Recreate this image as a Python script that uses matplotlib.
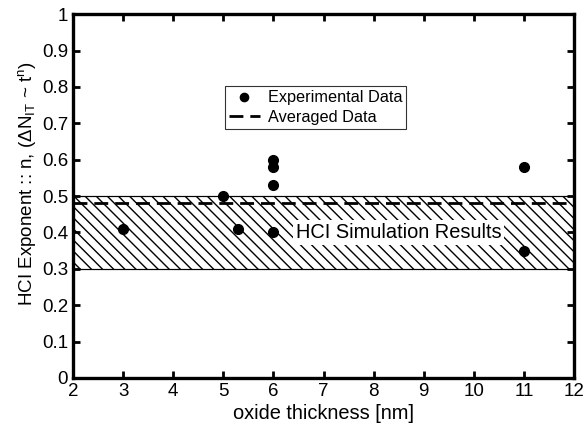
import numpy as np
import matplotlib.pyplot as plt

plt.rcParams['font.family'] = ['Liberation Sans', 'DejaVu Sans']
plt.rcParams['mathtext.fontset'] = 'custom'
plt.rcParams['mathtext.rm'] = 'Liberation Sans'
plt.rcParams['mathtext.it'] = 'Liberation Sans'

thickness = [3, 5, 5.3, 6, 6, 6, 6, 11, 11]
exponent = [0.41, 0.50, 0.41, 0.60, 0.58, 0.53, 0.40, 0.58, 0.35]
avg_exponent = 0.48
sim_low, sim_high = 0.30, 0.50

fig = plt.figure(figsize=(5.84, 4.30), dpi=100)
ax = fig.add_axes([0.125, 0.121, 0.858, 0.846])

ax.axhspan(sim_low, sim_high, facecolor='none', edgecolor='black', hatch='\\\\\\', linewidth=0.8)
ax.axhline(sim_low, color='black', lw=0.8)
ax.axhline(sim_high, color='black', lw=0.8)
ax.plot(thickness, exponent, 'o', color='black', ms=7, label='Experimental Data')
ax.axhline(avg_exponent, color='black', ls='--', lw=2, dashes=(5, 2.5), label='Averaged Data')

ax.text(6.45, 0.4, 'HCI Simulation Results', fontsize=14.4, va='center', ha='left',
        bbox=dict(facecolor='white', edgecolor='none', pad=2))

ax.set_xlim(2, 12)
ax.set_ylim(0, 1)
ax.set_xticks(np.arange(2, 13, 1))
ax.set_yticks(np.arange(0, 1.01, 0.1))
ax.set_yticklabels(['0', '0.1', '0.2', '0.3', '0.4', '0.5', '0.6', '0.7', '0.8', '0.9', '1'])
ax.tick_params(direction='in', length=5, width=2, labelsize=13.5, top=True, right=True)
for s in ax.spines.values():
    s.set_linewidth(2.4)

ax.set_xlabel('oxide thickness [nm]', fontsize=14.4, labelpad=3)
ax.set_ylabel(r'HCI Exponent :: n, ($\Delta$N$_{IT}$ ~ t$^{n}$)', fontsize=13.5)
ax.yaxis.set_label_coords(-0.07, 0.535)

leg = ax.legend(loc='upper left', bbox_to_anchor=(0.303, 0.802), fontsize=11.7,
                frameon=True, fancybox=False, edgecolor='black', handlelength=1.9,
                borderpad=0.25, labelspacing=0.3, handletextpad=0.5, markerscale=0.85,
                borderaxespad=0)
leg.get_frame().set_linewidth(0.8)

fig.savefig('out.png', dpi=100)
